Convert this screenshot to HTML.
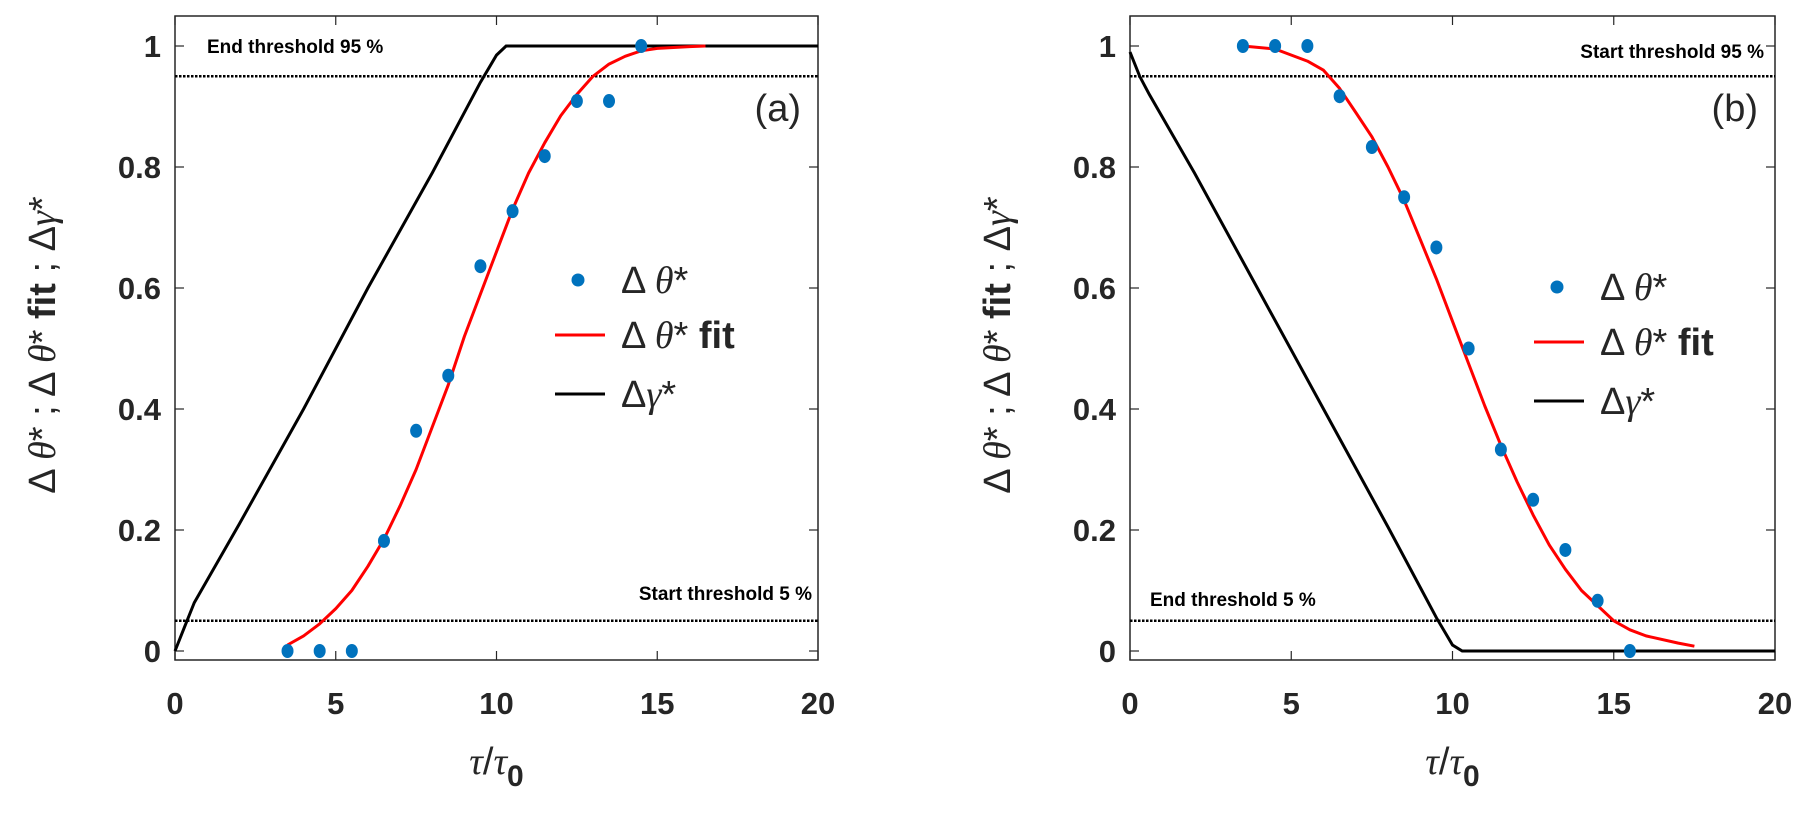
<!DOCTYPE html>
<html><head><meta charset="utf-8"><style>
body{margin:0;background:#fff}
svg text{font-family:"Liberation Sans",sans-serif;fill:#262626}
.tk{font-size:31px;font-weight:bold}
.th{font-size:19px;font-weight:bold;fill:#000}
.lg{font-size:38px}
</style></head><body>
<svg id="c" width="1809" height="808" xmlns="http://www.w3.org/2000/svg"></svg>
<script>
const xTicks=[0,5,10,15,20];
const yTicks=[0,0.2,0.4,0.6,0.8,1];
const yTickLabels=["0","0.2","0.4","0.6","0.8","1"];
const thresholds=[0.05,0.95];
const dotXA=[3.5,4.5,5.5,6.5,7.5,8.5,9.5,10.5,11.5,12.5,13.5,14.5];
const dotYA=[0,0,0,0.182,0.364,0.455,0.636,0.727,0.818,0.909,0.909,1];
const fitXA=[3.5,4,4.5,5,5.5,6,6.5,7,7.5,8,8.5,9,9.5,10,10.5,11,11.5,12,12.5,13,13.5,14,14.5,15,16,16.5];
const fitYA=[0.01,0.025,0.045,0.07,0.1,0.14,0.185,0.24,0.3,0.37,0.44,0.52,0.59,0.66,0.73,0.79,0.84,0.885,0.92,0.95,0.97,0.983,0.992,0.996,0.999,1];
const gamXA=[0,0.3,0.6,2,4,6,8,9.5,10,10.3,20];
const gamYA=[0,0.04,0.08,0.21,0.40,0.60,0.79,0.94,0.985,1,1];
const dotXB=[3.5,4.5,5.5,6.5,7.5,8.5,9.5,10.5,11.5,12.5,13.5,14.5,15.5];
const dotYB=[1,1,1,0.917,0.833,0.75,0.667,0.5,0.333,0.25,0.167,0.083,0];
const fitXB=[3.5,4.5,5.5,6,6.5,7,7.5,8,8.5,9,9.5,10,10.5,11,11.5,12,12.5,13,13.5,14,14.5,15,15.5,16,17,17.5];
const fitYB=[1,0.995,0.975,0.96,0.93,0.89,0.85,0.80,0.745,0.68,0.615,0.545,0.475,0.405,0.34,0.28,0.225,0.175,0.135,0.1,0.075,0.05,0.035,0.025,0.013,0.008];
const gamXB=[0,0.3,0.6,2,4,6,8,9,9.5,10,10.3,20];
const gamYB=[0.99,0.95,0.92,0.79,0.595,0.40,0.205,0.105,0.055,0.01,0,0];

const svg=document.getElementById('c');
const NS='http://www.w3.org/2000/svg';
function mk(tag,attrs,parent,txt){const e=document.createElementNS(NS,tag);for(const k in attrs)e.setAttribute(k,attrs[k]);if(txt!==undefined)e.innerHTML=txt;(parent||svg).appendChild(e);return e;}

function panel(p){
  const g=mk('g',{});
  
  
  const sx=v=>p.x0+(p.x1-p.x0)*v/20;
  const sy=v=>651-605*v;
  const box=mk('rect',{x:p.x0,y:16,width:p.x1-p.x0,height:644,fill:'none',stroke:'#262626','stroke-width':1.5},g);
  
  
  xTicks.forEach(t=>{
    mk('line',{x1:sx(t),x2:sx(t),y1:660,y2:651,stroke:'#262626','stroke-width':1.2},g);
    mk('line',{x1:sx(t),x2:sx(t),y1:16,y2:25,stroke:'#262626','stroke-width':1.2},g);
    const l=mk('text',{x:sx(t),y:714,'text-anchor':'middle',class:'tk'},g,t);
    
    
  });
  yTicks.forEach((t,i)=>{
    mk('line',{x1:p.x0,x2:p.x0+9,y1:sy(t),y2:sy(t),stroke:'#262626','stroke-width':1.2},g);
    mk('line',{x1:p.x1,x2:p.x1-9,y1:sy(t),y2:sy(t),stroke:'#262626','stroke-width':1.2},g);
    const l=mk('text',{x:p.x0-14,y:sy(t)+11,'text-anchor':'end',class:'tk'},g,yTickLabels[i]);
    
    
  });
  thresholds.forEach(t=>{
    const l=mk('line',{x1:p.x0,x2:p.x1,y1:sy(t),y2:sy(t),stroke:'#000','stroke-width':2.5,'stroke-dasharray':'2.5,1.5'},g);
    
    
  });
  const pts=(xs,ys)=>xs.map((x,i)=>sx(x).toFixed(1)+','+sy(ys[i]).toFixed(1)).join(' ');
  const gl=mk('polyline',{points:pts(p.gx,p.gy),fill:'none',stroke:'#000','stroke-width':3},g);
  
  
  const fl=mk('polyline',{points:pts(p.fx,p.fy),fill:'none',stroke:'#ff0000','stroke-width':3,'stroke-linejoin':'round'},g);
  
  
  p.dx.forEach((x,i)=>{
    const c=mk('ellipse',{cx:sx(x),cy:sy(p.dy[i]),rx:6,ry:7,fill:'#0072bd'},g);
    
    
  });
  p.texts.forEach(t=>{
    const e=mk('text',{x:t[0],y:t[1],class:t[3]||'th','text-anchor':t[4]||'start'},g,t[2]);
    
    
  });
  // legend
  const L=p.leg;
  const lg=mk('g',{},g);
  
  
  mk('circle',{cx:L[0]+23,cy:L[1],r:6.5,fill:'#0072bd'},lg);
  mk('line',{x1:L[0],x2:L[0]+50,y1:L[1]+55,y2:L[1]+55,stroke:'#ff0000','stroke-width':3},lg);
  mk('line',{x1:L[0],x2:L[0]+50,y1:L[1]+114,y2:L[1]+114,stroke:'#000','stroke-width':3},lg);
  mk('text',{x:L[0]+66,y:L[1]+13,class:'lg'},lg,'Δ <tspan font-family="Liberation Serif" font-style="italic">θ</tspan>*');
  mk('text',{x:L[0]+66,y:L[1]+68,class:'lg'},lg,'Δ <tspan font-family="Liberation Serif" font-style="italic">θ</tspan>* <tspan font-weight="bold">fit</tspan>');
  mk('text',{x:L[0]+66,y:L[1]+127,class:'lg'},lg,'Δ<tspan font-family="Liberation Serif" font-style="italic">γ</tspan>*');
  // axis titles
  const xt=mk('text',{x:(p.x0+p.x1)/2,y:774,'text-anchor':'middle','font-size':38},g,'<tspan font-family="Liberation Serif" font-style="italic">τ</tspan>/<tspan font-family="Liberation Serif" font-style="italic">τ</tspan><tspan font-weight="bold" font-size="30" dy="12">0</tspan>');
  
  
  const yt=mk('text',{x:0,y:0,'text-anchor':'middle','font-size':38,transform:`translate(${p.x0-120},345) rotate(-90)`},g,'Δ <tspan font-family="Liberation Serif" font-style="italic">θ</tspan>* ; Δ <tspan font-family="Liberation Serif" font-style="italic">θ</tspan>* <tspan font-weight="bold">fit</tspan> ; Δ<tspan font-family="Liberation Serif" font-style="italic">γ</tspan>*');
  
  
}
panel({id:'a',x0:175,x1:818,dx:dotXA,dy:dotYA,fx:fitXA,fy:fitYA,gx:gamXA,gy:gamYA,leg:[555,280],
  texts:[[207,53,'End threshold 95 %','th','start','end-threshold-label'],[801,121,'(a)','lg','end','panel-label'],[812,600,'Start threshold 5 %','th','end','start-threshold-label']]});
panel({id:'b',x0:1130,x1:1775,dx:dotXB,dy:dotYB,fx:fitXB,fy:fitYB,gx:gamXB,gy:gamYB,leg:[1534,287],
  texts:[[1764,58,'Start threshold 95 %','th','end','start-threshold-label'],[1758,121,'(b)','lg','end','panel-label'],[1150,606,'End threshold 5 %','th','start','end-threshold-label']]});
</script>
</body></html>
